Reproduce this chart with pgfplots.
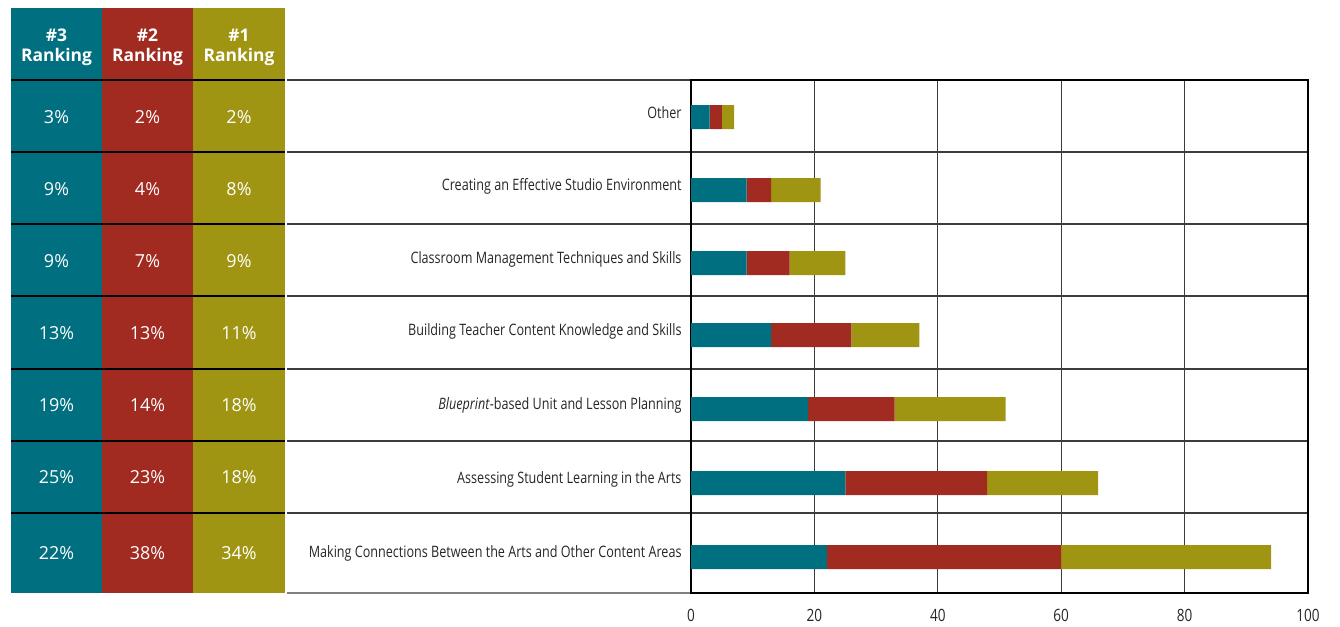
\documentclass[border=0pt]{standalone}
\usepackage{pgfplots}
\pgfplotsset{compat=1.18}
\usepackage{fontspec}
\setmainfont{Open Sans}
\newfontfamily\condfont[FakeStretch=0.8]{Open Sans}
\definecolor{cteal}{RGB}{0,112,128}
\definecolor{cred}{RGB}{161,42,33}
\definecolor{colive}{RGB}{159,149,19}
\definecolor{gridc}{RGB}{60,60,60}
\begin{document}
\begin{tikzpicture}
\begin{scope}[x=1bp,y=-1bp]
\path[use as bounding box] (0,0) rectangle (1340,627);
% table background
\fill[cteal] (11,8) rectangle (102,593);
\fill[cred] (102,8) rectangle (193,593);
\fill[colive] (193,8) rectangle (285,593);
\foreach \y in {80,152,224,296,369,441,513} {
  \draw[black,line width=1.3bp] (11,\y) -- (285,\y);
  \draw[gridc,line width=1.5bp] (287,\y) -- (1308,\y);
}
\draw[gray,line width=2bp] (287,593) -- (691,593);
% header
\foreach \x/\t in {56.5/3,147.5/2,239/1}
  \node[white,font=\bfseries\fontsize{17.5}{20}\selectfont,align=center] at (\x,47) {\#\t\\Ranking};
% table values (#3, #2, #1 rankings)
\foreach \yy/\a/\b/\c in {117/3/2/2,189/9/4/8,261/9/7/9,333/13/13/11,405/19/14/18,477/25/23/18,553/22/38/34} {
  \node[white,font=\fontsize{18}{20}\selectfont] at (56.5,\yy) {\a\%};
  \node[white,font=\fontsize{18}{20}\selectfont] at (147.5,\yy) {\b\%};
  \node[white,font=\fontsize{18}{20}\selectfont] at (239,\yy) {\c\%};
}
\end{scope}
\begin{axis}[
  at={(691bp,-593bp)}, anchor=south west,
  scale only axis, width=617bp, height=513bp,
  xmin=0, xmax=100, ymin=80, ymax=593, y dir=reverse,
  xbar stacked, bar width=24,
  xtick={0,20,40,60,80,100},
  ytick={117,190,263,335,409,483,557},
  yticklabels={Other,Creating an Effective Studio Environment,Classroom Management Techniques and Skills,Building Teacher Content Knowledge and Skills,\textit{Blueprint}-based Unit and Lesson Planning,Assessing Student Learning in the Arts,Making Connections Between the Arts and Other Content Areas},
  major tick length=0pt,
  xmajorgrids, grid style={gridc,line width=1bp},
  axis line style={black,line width=1.3bp},
  /pgf/number format/assume math mode=true,
  xticklabel style={font=\condfont\fontsize{17}{20}\selectfont,text=black!85,yshift=-13bp},
  yticklabel style={font=\condfont\fontsize{15.8}{18}\selectfont,text=black!85,yshift=4bp,xshift=-6bp},
]
\addplot[fill=cteal,draw=none] coordinates {(3,117) (9,190) (9,263) (13,335) (19,409) (25,483) (22,557)};
\addplot[fill=cred,draw=none] coordinates {(2,117) (4,190) (7,263) (13,335) (14,409) (23,483) (38,557)};
\addplot[fill=colive,draw=none] coordinates {(2,117) (8,190) (9,263) (11,335) (18,409) (18,483) (34,557)};
\end{axis}
\end{tikzpicture}
\end{document}
